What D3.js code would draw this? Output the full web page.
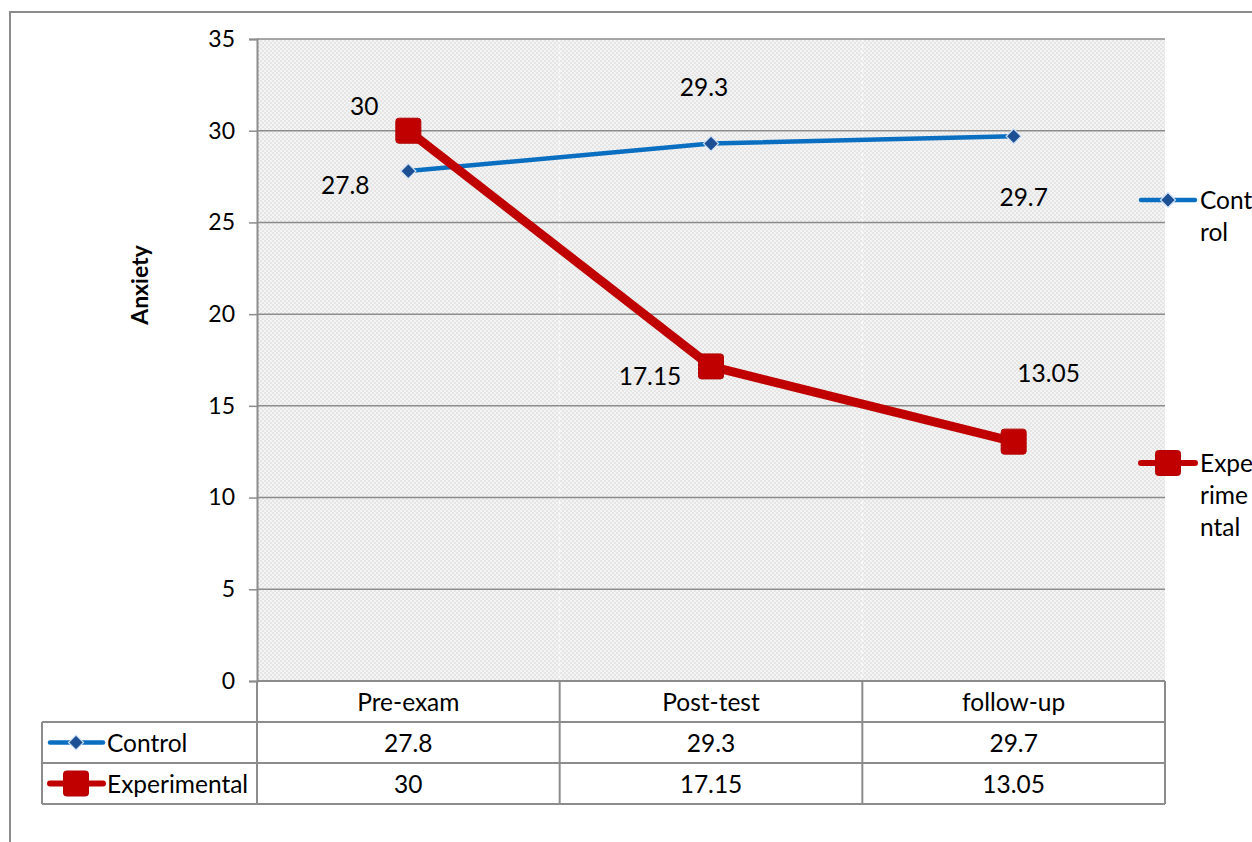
<!DOCTYPE html>
<html>
<head>
<meta charset="utf-8">
<script src="https://cdn.jsdelivr.net/npm/d3@7"></script>
<style>
  html, body { margin: 0; padding: 0; background: #fff; }
  svg { display: block; font-family: Lato, "Open Sans", sans-serif; }
</style>
</head>
<body>
<svg id="chart" width="1252" height="842"></svg>
<script>
// Anxiety scores by measurement stage
const categories = ["Pre-exam", "Post-test", "follow-up"];
const controlValues = [27.8, 29.3, 29.7];
const experimentalValues = [30, 17.15, 13.05];
const controlLabels = ["27.8", "29.3", "29.7"];
const experimentalLabels = ["30", "17.15", "13.05"];
const yTicks = [0, 5, 10, 15, 20, 25, 30, 35];

const series = [
  { name: "Control", values: controlValues, labels: controlLabels,
    color: "#0b6fc1", width: 4.5, marker: "diamond",
    labelOffsets: [[-63, 14], [-7, -57], [10, 61]],
    legendLines: ["Cont", "rol"] },
  { name: "Experimental", values: experimentalValues, labels: experimentalLabels,
    color: "#c00000", width: 9, marker: "square",
    labelOffsets: [[-44, -25], [-61, 10], [35, -69]],
    legendLines: ["Expe", "rime", "ntal"] }
];

const svg = d3.select("#chart");
const plot = { left: 257, right: 1165, top: 39, bottom: 681 };
const rowH = 41;
const tableLeft = 42;
const gridColor = "#8c8c8c";
const fontSize = 24.5;
const baseShift = 9;

const x = d3.scaleBand().domain(categories).range([plot.left, plot.right]).padding(0);
const y = d3.scaleLinear().domain([0, 35]).range([plot.bottom, plot.top]);

// checkered plot fill
const defs = svg.append("defs");
const pat = defs.append("pattern").attr("id", "checks")
  .attr("width", 4).attr("height", 4).attr("patternUnits", "userSpaceOnUse");
pat.append("rect").attr("width", 4).attr("height", 4).attr("fill", "#f4f4f4");
pat.append("rect").attr("width", 2).attr("height", 2).attr("fill", "#e5e5e5");
pat.append("rect").attr("x", 2).attr("y", 2).attr("width", 2).attr("height", 2).attr("fill", "#e5e5e5");

// outer chart frame (top and left edges)
svg.append("path").attr("d", "M10,842 V12 H1252")
  .attr("fill", "none").attr("stroke", gridColor).attr("stroke-width", 2);

svg.append("rect")
  .attr("x", plot.left).attr("y", plot.top)
  .attr("width", plot.right - plot.left).attr("height", plot.bottom - plot.top)
  .attr("fill", "url(#checks)");

// faint dotted separators between categories
svg.append("g").selectAll("line")
  .data(categories.slice(1))
  .join("line")
  .attr("x1", d => x(d)).attr("x2", d => x(d))
  .attr("y1", plot.top).attr("y2", plot.bottom)
  .attr("stroke", "#fafafa").attr("stroke-width", 1.5).attr("stroke-dasharray", "3,3");

// horizontal gridlines
svg.append("g").selectAll("line")
  .data(yTicks.filter(t => t > 0))
  .join("line")
  .attr("x1", plot.left).attr("x2", plot.right)
  .attr("y1", d => y(d)).attr("y2", d => y(d))
  .attr("stroke", gridColor).attr("stroke-width", 1.5);

// y axis
const yAxis = svg.append("g")
  .attr("transform", `translate(${plot.left},0)`)
  .call(d3.axisLeft(y).tickValues(yTicks).tickSize(8).tickPadding(14));
yAxis.select(".domain").attr("stroke", gridColor).attr("stroke-width", 2);
yAxis.selectAll(".tick line").attr("stroke", gridColor).attr("stroke-width", 1.5);
yAxis.selectAll(".tick text")
  .attr("font-size", 23).attr("fill", "#000")
  .attr("font-family", "Lato, sans-serif");

svg.append("text")
  .attr("transform", `translate(148,${(plot.top + plot.bottom) / 2 - 75}) rotate(-90)`)
  .attr("text-anchor", "middle")
  .attr("font-size", 23).attr("font-weight", "bold")
  .text("Anxiety");

// data table below the plot
const table = svg.append("g");
const tableBottom = plot.bottom + 3 * rowH;
const colEdges = [plot.left].concat(categories.map(c => x(c) + x.bandwidth()));

table.selectAll("line.h")
  .data([0, 1, 2, 3])
  .join("line")
  .attr("x1", (d, i) => i === 0 ? plot.left : tableLeft)
  .attr("x2", plot.right)
  .attr("y1", d => plot.bottom + d * rowH)
  .attr("y2", d => plot.bottom + d * rowH)
  .attr("stroke", gridColor).attr("stroke-width", 2);
table.selectAll("line.v")
  .data(colEdges)
  .join("line")
  .attr("x1", d => d).attr("x2", d => d)
  .attr("y1", plot.bottom).attr("y2", tableBottom)
  .attr("stroke", gridColor).attr("stroke-width", 2);
table.append("line")
  .attr("x1", tableLeft).attr("x2", tableLeft)
  .attr("y1", plot.bottom + rowH).attr("y2", tableBottom)
  .attr("stroke", gridColor).attr("stroke-width", 2);

table.selectAll("text.cat")
  .data(categories)
  .join("text")
  .attr("x", d => x(d) + x.bandwidth() / 2)
  .attr("y", plot.bottom + rowH / 2 + baseShift)
  .attr("text-anchor", "middle").attr("font-size", fontSize)
  .text(d => d);

function drawMarker(g, type, color, cx, cy) {
  if (type === "diamond") {
    const s = 7.5;
    g.append("path")
      .attr("d", `M${cx},${cy - s} L${cx + s},${cy} L${cx},${cy + s} L${cx - s},${cy} Z`)
      .attr("fill", "#1d4f95").attr("stroke", "#cfe0f3").attr("stroke-width", 1.2);
  } else {
    const s = 12.5;
    g.append("rect")
      .attr("x", cx - s).attr("y", cy - s).attr("width", 2 * s).attr("height", 2 * s)
      .attr("rx", 3).attr("fill", color).attr("stroke", "#b30000").attr("stroke-width", 1);
  }
}

series.forEach((s, si) => {
  const rowY = plot.bottom + (si + 1) * rowH;
  const midY = rowY + rowH / 2;
  const lg = table.append("g");
  lg.append("line").attr("x1", 50).attr("x2", 103).attr("y1", midY).attr("y2", midY)
    .attr("stroke", s.color).attr("stroke-width", s.marker === "diamond" ? 4.5 : 6).attr("stroke-linecap", "round");
  drawMarker(lg, s.marker, s.color, 76, midY);
  lg.append("text").attr("x", 107).attr("y", midY + baseShift)
    .attr("font-size", fontSize).text(s.name);
  table.selectAll(null)
    .data(s.labels)
    .join("text")
    .attr("x", (d, i) => x(categories[i]) + x.bandwidth() / 2)
    .attr("y", midY + baseShift)
    .attr("text-anchor", "middle").attr("font-size", fontSize)
    .text(d => d);
});

// series lines, markers and value labels
const line = d3.line()
  .x((d, i) => x(categories[i]) + x.bandwidth() / 2)
  .y(d => y(d));

series.forEach(s => {
  const g = svg.append("g");
  g.append("path").datum(s.values)
    .attr("d", line)
    .attr("fill", "none").attr("stroke", s.color)
    .attr("stroke-width", s.width).attr("stroke-linejoin", "round");
  s.values.forEach((v, i) => {
    drawMarker(g, s.marker, s.color, x(categories[i]) + x.bandwidth() / 2, y(v));
  });
  g.selectAll("text")
    .data(s.values)
    .join("text")
    .attr("x", (d, i) => x(categories[i]) + x.bandwidth() / 2 + s.labelOffsets[i][0])
    .attr("y", (d, i) => y(d) + s.labelOffsets[i][1] + baseShift)
    .attr("text-anchor", "middle").attr("font-size", fontSize)
    .text((d, i) => s.labels[i]);
});

// right-hand legend with wrapped names
const legendY = [200, 463];
series.forEach((s, si) => {
  const g = svg.append("g");
  const ly = legendY[si];
  g.append("line").attr("x1", 1141).attr("x2", 1195).attr("y1", ly).attr("y2", ly)
    .attr("stroke", s.color).attr("stroke-width", s.marker === "diamond" ? 4.5 : 6).attr("stroke-linecap", "round");
  drawMarker(g, s.marker, s.color, 1168, ly);
  g.selectAll("text")
    .data(s.legendLines)
    .join("text")
    .attr("x", 1200)
    .attr("y", (d, i) => ly + baseShift + i * 32)
    .attr("font-size", fontSize)
    .text(d => d);
});
</script>
</body>
</html>
